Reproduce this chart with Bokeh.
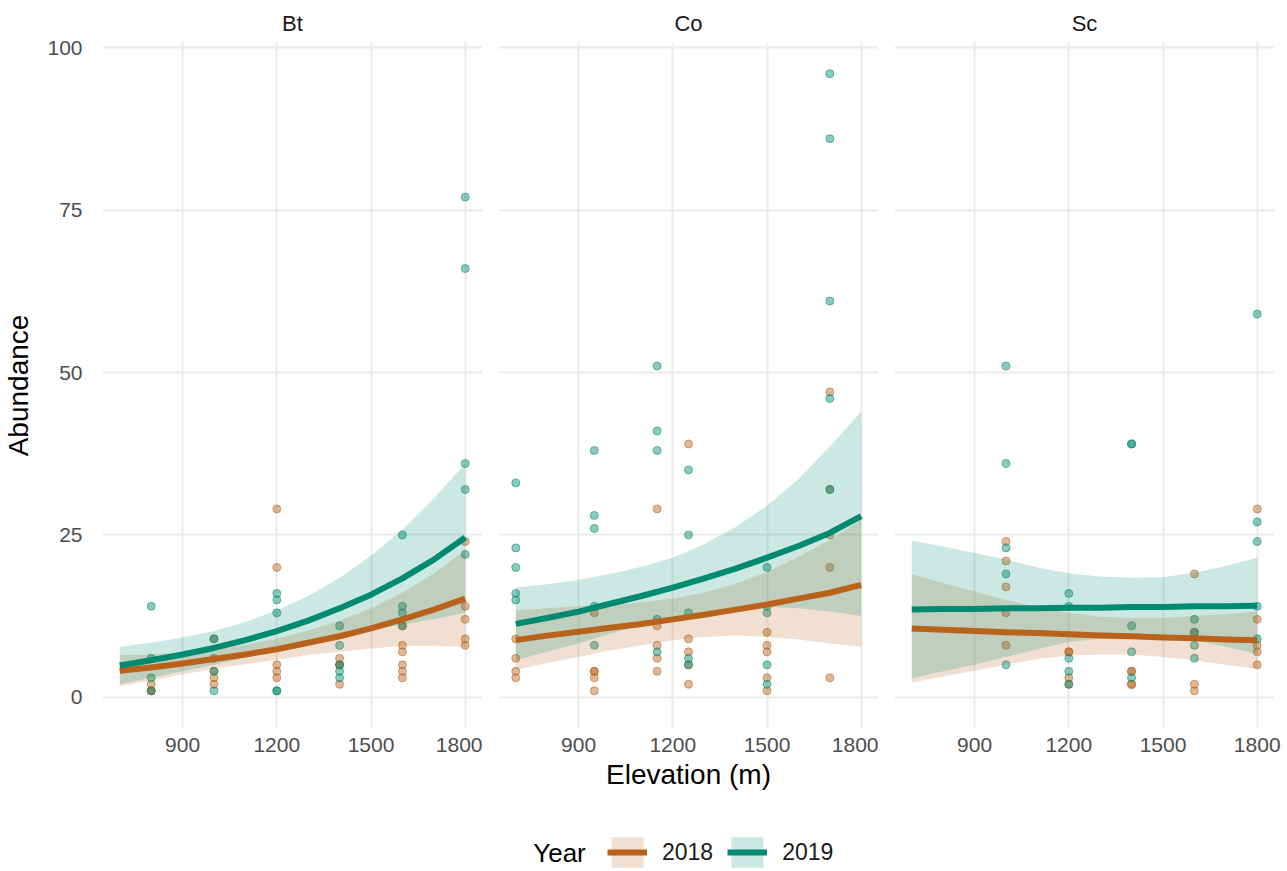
from bokeh.plotting import figure
from bokeh.models import Range1d, FixedTicker, Legend, LegendItem, Label
from bokeh.layouts import row, column
from bokeh.embed import file_html
from bokeh.resources import INLINE

FONT = "Liberation Sans"
SPECIES = ["Bt", "Co", "Sc"]
YEARS = ["2018", "2019"]
COLORS = {"2018": "#B8621B", "2019": "#008A70"}
X_TICKS = [900, 1200, 1500, 1800]
Y_TICKS = [0, 25, 50, 75, 100]

# ---------------- observed abundances ----------------
bt_elev_2018 = [800, 800, 800, 1000, 1000, 1000, 1000, 1200, 1200, 1200, 1200, 1200,
                1400, 1400, 1400, 1400, 1600, 1600, 1600, 1600, 1600, 1600, 1800, 1800, 1800, 1800, 1800]
bt_abund_2018 = [2, 1, 1, 9, 4, 3, 2, 29, 20, 5, 4, 3,
                 6, 5, 5, 2, 11, 8, 7, 5, 4, 3, 24, 14, 12, 9, 8]
bt_elev_2019 = [800, 800, 800, 800, 1000, 1000, 1000, 1000, 1200, 1200, 1200, 1200, 1200,
                1400, 1400, 1400, 1400, 1400, 1600, 1600, 1600, 1600, 1800, 1800, 1800, 1800, 1800]
bt_abund_2019 = [14, 6, 3, 1, 9, 6, 4, 1, 16, 15, 13, 1, 1,
                 11, 8, 5, 4, 3, 25, 14, 13, 11, 77, 66, 36, 32, 22]

co_elev_2018 = [700, 700, 700, 700, 950, 950, 950, 950, 950, 1150, 1150, 1150, 1150, 1150,
                1250, 1250, 1250, 1250, 1250, 1500, 1500, 1500, 1500, 1500, 1700, 1700, 1700, 1700, 1700]
co_abund_2018 = [9, 6, 4, 3, 13, 4, 4, 3, 1, 29, 11, 8, 6, 4,
                 39, 9, 7, 5, 2, 10, 8, 7, 3, 1, 47, 32, 25, 20, 3]
co_elev_2019 = [700, 700, 700, 700, 700, 950, 950, 950, 950, 950, 1150, 1150, 1150, 1150, 1150,
                1250, 1250, 1250, 1250, 1250, 1500, 1500, 1500, 1500, 1500, 1700, 1700, 1700, 1700, 1700]
co_abund_2019 = [33, 23, 20, 16, 15, 38, 28, 26, 14, 8, 51, 41, 38, 12, 7,
                 35, 25, 13, 6, 5, 20, 14, 13, 5, 2, 96, 86, 61, 46, 32]

sc_elev_2018 = [1000, 1000, 1000, 1000, 1000, 1200, 1200, 1200, 1200, 1400, 1400, 1400, 1400,
                1600, 1600, 1600, 1600, 1800, 1800, 1800, 1800, 1800]
sc_abund_2018 = [24, 21, 17, 13, 8, 7, 7, 3, 2, 4, 4, 2, 2,
                 19, 10, 2, 1, 29, 12, 8, 7, 5]
sc_elev_2019 = [1000, 1000, 1000, 1000, 1000, 1200, 1200, 1200, 1200, 1200, 1400, 1400, 1400, 1400, 1400,
                1600, 1600, 1600, 1600, 1800, 1800, 1800, 1800, 1800]
sc_abund_2019 = [51, 36, 23, 19, 5, 16, 14, 6, 4, 2, 39, 39, 11, 7, 3,
                 12, 10, 8, 6, 59, 27, 24, 14, 9]

# ---------------- fitted curves with confidence bands ----------------
fit_elev = [700, 800, 900, 1000, 1100, 1200, 1300, 1400, 1500, 1600, 1700, 1800]

bt_fit_2018 = [4.1, 4.6, 5.2, 5.9, 6.6, 7.4, 8.4, 9.4, 10.6, 12.0, 13.5, 15.2]
bt_lo_2018 = [1.7, 2.6, 3.5, 4.4, 5.1, 5.8, 6.5, 7.0, 7.5, 7.9, 7.9, 7.8]
bt_hi_2018 = [6.5, 6.6, 6.9, 7.4, 8.1, 9.0, 10.3, 11.8, 13.7, 16.1, 19.1, 22.6]
bt_fit_2019 = [4.9, 5.7, 6.6, 7.6, 8.8, 10.2, 11.8, 13.7, 15.8, 18.3, 21.2, 24.6]
bt_lo_2019 = [2.0, 3.0, 4.0, 5.0, 6.1, 7.2, 8.3, 9.3, 10.3, 11.2, 12.0, 13.0]
bt_hi_2019 = [7.8, 8.4, 9.2, 10.2, 11.6, 13.4, 15.6, 18.4, 21.8, 25.8, 30.6, 36.0]

co_fit_2018 = [8.8, 9.5, 10.1, 10.7, 11.3, 12.0, 12.7, 13.5, 14.3, 15.2, 16.1, 17.3]
co_lo_2018 = [4.2, 5.3, 6.2, 7.2, 8.0, 8.8, 9.3, 9.5, 9.3, 8.9, 8.3, 7.8]
co_hi_2018 = [13.4, 13.7, 14.0, 14.2, 14.6, 15.2, 16.1, 17.5, 19.3, 21.6, 24.2, 27.3]
co_fit_2019 = [11.3, 12.2, 13.2, 14.4, 15.6, 16.9, 18.3, 19.8, 21.5, 23.3, 25.3, 27.9]
co_lo_2019 = [5.7, 7.0, 8.3, 9.8, 11.1, 12.3, 13.1, 13.6, 13.9, 13.7, 13.2, 12.5]
co_hi_2019 = [16.9, 17.4, 18.1, 19.0, 20.1, 21.5, 23.6, 26.2, 29.5, 33.6, 38.6, 44.0]

sc_fit_2018 = [10.6, 10.4, 10.2, 10.0, 9.9, 9.7, 9.5, 9.4, 9.2, 9.1, 8.9, 8.8]
sc_lo_2018 = [2.3, 3.2, 4.1, 5.0, 5.9, 6.4, 6.6, 6.6, 6.2, 5.7, 5.0, 4.4]
sc_hi_2018 = [18.9, 17.6, 16.3, 15.0, 13.9, 13.0, 12.4, 12.2, 12.2, 12.5, 12.8, 13.2]
sc_fit_2019 = [13.5, 13.6, 13.6, 13.7, 13.7, 13.8, 13.8, 13.9, 13.9, 14.0, 14.0, 14.1]
sc_lo_2019 = [2.9, 4.0, 5.0, 6.2, 7.4, 8.5, 9.0, 9.4, 9.3, 8.8, 7.8, 6.7]
sc_hi_2019 = [24.1, 23.2, 22.2, 21.2, 20.0, 19.1, 18.6, 18.4, 18.5, 19.2, 20.2, 21.5]

POINTS = {
    "Bt": {"2018": (bt_elev_2018, bt_abund_2018), "2019": (bt_elev_2019, bt_abund_2019)},
    "Co": {"2018": (co_elev_2018, co_abund_2018), "2019": (co_elev_2019, co_abund_2019)},
    "Sc": {"2018": (sc_elev_2018, sc_abund_2018), "2019": (sc_elev_2019, sc_abund_2019)},
}
FITS = {
    "Bt": {"2018": (bt_fit_2018, bt_lo_2018, bt_hi_2018), "2019": (bt_fit_2019, bt_lo_2019, bt_hi_2019)},
    "Co": {"2018": (co_fit_2018, co_lo_2018, co_hi_2018), "2019": (co_fit_2019, co_lo_2019, co_hi_2019)},
    "Sc": {"2018": (sc_fit_2018, sc_lo_2018, sc_hi_2018), "2019": (sc_fit_2019, sc_lo_2019, sc_hi_2019)},
}

FRAME_W, FRAME_H = 380, 686
TOP, BOTTOM = 42, 66


def make_panel(name, idx):
    left = 96 if idx == 0 else 16
    right = 19 if idx == 2 else 0
    p = figure(frame_width=FRAME_W, frame_height=FRAME_H,
               x_range=Range1d(645, 1855), y_range=Range1d(-4.8, 100.8),
               output_backend="svg", toolbar_location=None, title=name,
               min_border_top=TOP, min_border_bottom=BOTTOM,
               min_border_left=left, min_border_right=right)
    p.outline_line_color = None
    p.background_fill_color = "white"
    p.border_fill_color = "white"
    p.title.align = "center"
    p.title.text_font = FONT
    p.title.text_font_size = "22px"
    p.title.text_font_style = "normal"
    p.title.text_color = "#1A1A1A"
    p.title.standoff = 14

    p.xaxis.ticker = FixedTicker(ticks=X_TICKS)
    p.yaxis.ticker = FixedTicker(ticks=Y_TICKS)
    for g in (p.xgrid, p.ygrid):
        g.grid_line_color = "#EBEBEB"
        g.grid_line_width = 2
        g.minor_grid_line_color = None
    p.xgrid.ticker = FixedTicker(ticks=X_TICKS)
    p.ygrid.ticker = FixedTicker(ticks=Y_TICKS)

    for ax in (p.xaxis, p.yaxis):
        ax.axis_line_color = None
        ax.major_tick_line_color = None
        ax.minor_tick_line_color = None
        ax.major_label_text_font = FONT
        ax.major_label_text_font_size = "21px"
        ax.major_label_text_color = "#4D4D4D"
        ax.axis_label_text_font = FONT
        ax.axis_label_text_font_size = "28px"
        ax.axis_label_text_font_style = "normal"
        ax.axis_label_text_color = "#000000"
    p.xaxis.major_label_standoff = 3
    p.xaxis.axis_label_standoff = 4
    if idx == 1:
        p.xaxis.axis_label = "Elevation (m)"
    if idx == 0:
        p.yaxis.axis_label = "Abundance"
        p.yaxis.major_label_standoff = 14
        p.yaxis.axis_label_standoff = 10
    else:
        p.yaxis.visible = False

    for yr in YEARS:
        ex, ab = POINTS[name][yr]
        c = COLORS[yr]
        p.scatter(ex, ab, size=8, fill_color=c, fill_alpha=0.45,
                  line_color=c, line_alpha=0.55, line_width=1)
    for yr in YEARS:
        fit, lo, hi = FITS[name][yr]
        p.varea(x=fit_elev, y1=lo, y2=hi, fill_color=COLORS[yr], fill_alpha=0.2)
    for yr in YEARS:
        fit, lo, hi = FITS[name][yr]
        p.line(fit_elev, fit, line_color=COLORS[yr], line_width=6, line_join="round")
    return p


panels = [make_panel(n, i) for i, n in enumerate(SPECIES)]

# ---------------- legend strip ----------------
LEG_H = 871 - (TOP + FRAME_H + BOTTOM)
leg = figure(width=1287, height=LEG_H, x_range=Range1d(0, 1287), y_range=Range1d(LEG_H, 0),
             output_backend="svg", toolbar_location=None, min_border=0)
leg.extra_x_ranges = {"hidden": Range1d(10000, 20000)}
leg.axis.visible = False
leg.grid.visible = False
leg.outline_line_color = None
items = []
for yr in YEARS:
    c = COLORS[yr]
    fit, lo, hi = FITS["Bt"][yr]
    band = leg.varea(x=fit_elev, y1=lo, y2=hi, fill_color=c, fill_alpha=0.2, x_range_name="hidden")
    ln = leg.line(fit_elev, fit, line_color=c, line_width=6, x_range_name="hidden")
    items.append(LegendItem(label=yr, renderers=[band, ln]))
legend = Legend(items=items, orientation="horizontal", location=(607, 0),
                glyph_width=40, glyph_height=38, label_standoff=15, spacing=14,
                padding=0, margin=0, border_line_color=None, background_fill_alpha=0,
                label_text_font=FONT, label_text_font_size="23px", label_text_color="#1A1A1A")
leg.add_layout(legend, "center")
leg.add_layout(Label(x=559, y=58, text="Year", text_font=FONT, text_font_size="26px",
                     text_align="center", text_baseline="middle", text_color="#000000"))

layout = column(row(*panels, spacing=0), leg, spacing=0)
open("out.html", "w").write(file_html(layout, INLINE))
